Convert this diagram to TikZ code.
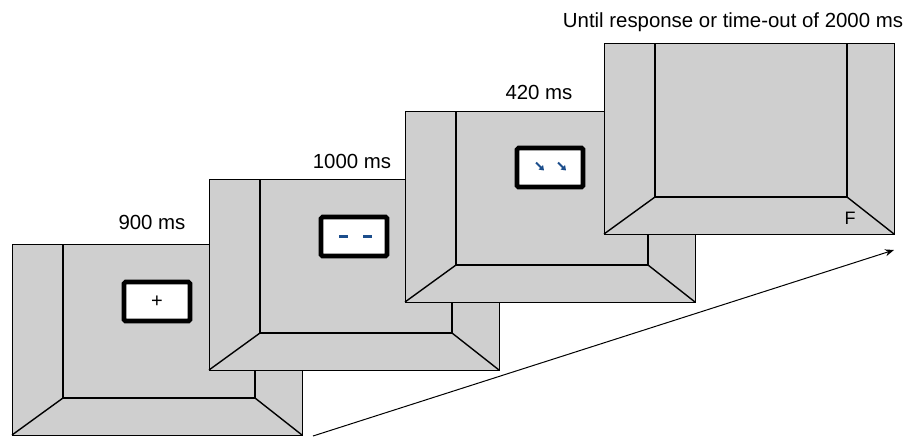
\documentclass[tikz,border=0pt]{standalone}
\usepackage{fontspec}
\setmainfont{Liberation Sans}
\usetikzlibrary{arrows.meta}
\definecolor{screengray}{RGB}{207,207,207}
\definecolor{stimblue}{RGB}{28,78,140}
\tikzset{
  screen/.style={draw=black, fill=screengray, line width=1.4pt, minimum width=290pt, minimum height=191pt, inner sep=0pt, anchor=north west},
  wall/.style={draw=black, line width=1.4pt, line join=miter},
  stimbox/.style={draw=black, fill=white, line width=4.6pt, minimum width=66pt, minimum height=39pt, inner sep=0pt, rounded corners=1.5pt},
  lbl/.style={font=\fontsize{20.4}{24}\selectfont, inner sep=0pt},
  stimmark/.style={stimblue, line width=2.2pt},
  stimarrow/.style={stimblue, line width=2pt, -{Triangle[length=4.5pt,width=6pt]}},
}
\newcommand\drawscreen[3]{%
  \begin{scope}[shift={(#2,#3)}]
    \node[screen] (#1) at (0,0) {};
    \draw[wall] (51,0) -- (51,154) -- (243,154) -- (243,0);
    \draw[wall] (51,154) -- (0,191);
    \draw[wall] (243,154) -- (290,191);
  \end{scope}}
\begin{document}
\begin{tikzpicture}[x=1pt,y=-1pt]
\useasboundingbox (0,0) rectangle (907,437);
% screen 1
\drawscreen{s1}{12}{244}
\node[stimbox] (b1) at (157,301.5) {\fontsize{20}{22}\selectfont +};
% screen 2
\drawscreen{s2}{209}{179}
\node[stimbox] (b2) at (354,236.5) {};
\draw[stimmark] ([xshift=-15pt]b2.center) -- ([xshift=-6pt]b2.center);
\draw[stimmark] ([xshift=9pt]b2.center) -- ([xshift=18pt]b2.center);
% screen 3
\drawscreen{s3}{405}{111}
\node[stimbox] (b3) at (550,167.5) {};
\draw[stimarrow] ([shift={(-14pt,5pt)}]b3.center) -- ([shift={(-6pt,-3pt)}]b3.center);
\draw[stimarrow] ([shift={(8pt,5pt)}]b3.center) -- ([shift={(16pt,-3pt)}]b3.center);
% screen 4
\drawscreen{s4}{604}{43}
\node[font=\fontsize{18}{20}\selectfont, inner sep=0pt] (f) at (850,218) {F};
% labels
\node[lbl] (l1) at (152,222) {900 ms};
\node[lbl] (l2) at (352,161) {1000 ms};
\node[lbl] (l3) at (539,92) {420 ms};
\node[lbl] (l4) at (733,22) {Until response or time-out of 2000 ms};
% time arrow
\coordinate (tstart) at (313,436);
\coordinate (tend) at (894,250);
\draw[line width=1pt, -{Stealth[length=9pt,width=7pt]}] (tstart) -- (tend);
\end{tikzpicture}
\end{document}
